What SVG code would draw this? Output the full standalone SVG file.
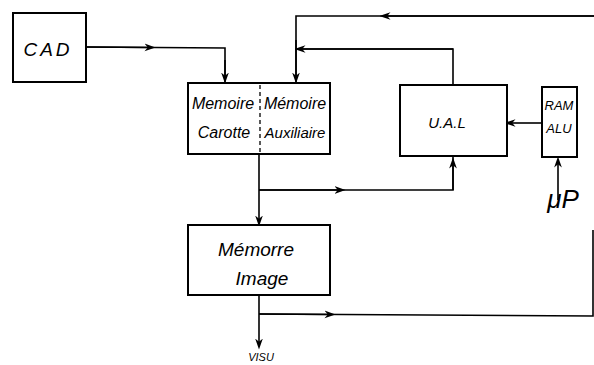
<svg xmlns="http://www.w3.org/2000/svg" width="594" height="365" viewBox="0 0 594 365">
<defs>
<marker id="ah" viewBox="0 0 10 10" refX="5" refY="5" markerWidth="11" markerHeight="11" markerUnits="userSpaceOnUse" orient="auto">
<path d="M0,1.5 L10,5 L0,8.5 L3,5 Z" fill="#000"/>
</marker>
<style>
.box{fill:#fff;stroke:#000;stroke-width:2}
.ln{fill:none;stroke:#000;stroke-width:1.6}
.t{font-family:"Liberation Sans",Arial,sans-serif;font-style:italic;fill:#000}
</style>
</defs>
<rect width="594" height="365" fill="#fff"/>
<g id="connectors">
<path class="ln" d="M86,47 L225,48 L225,82"/>
<path class="ln" d="M86,47 L150,47.5" marker-end="url(#ah)"/>
<path class="ln" d="M225,60 L225,78" marker-end="url(#ah)"/>
<path class="ln" d="M594,16 L296,16 L296,83"/>
<path class="ln" d="M594,16 L385,16" marker-end="url(#ah)"/>
<path class="ln" d="M296,40 L296,78" marker-end="url(#ah)"/>
<path class="ln" d="M453,85 L453,49 L296,49"/>
<path class="ln" d="M453,49 L300,49" marker-end="url(#ah)"/>
<path class="ln" d="M542,123 L510,123" marker-end="url(#ah)"/>
<path class="ln" d="M558,200 L558,162" marker-end="url(#ah)"/>
<path class="ln" d="M259,154 L259,221" marker-end="url(#ah)"/>
<path class="ln" d="M259,190 L453,190 L453,156"/>
<path class="ln" d="M259,190 L340,190" marker-end="url(#ah)"/>
<path class="ln" d="M453,190 L453,163" marker-end="url(#ah)"/>
<path class="ln" d="M259,295 L259,344" marker-end="url(#ah)"/>
<path class="ln" d="M259,314 L593,316 L593,230"/>
<path class="ln" d="M259,314 L330,314.5" marker-end="url(#ah)"/>
</g>
<g id="cad">
<rect class="box" x="13" y="13" width="73" height="69"/>
<text class="t" x="48" y="56" font-size="19" text-anchor="middle" letter-spacing="3">CAD</text>
</g>
<g id="memoire">
<rect class="box" x="188" y="83" width="142" height="71"/>
<line x1="260" y1="85" x2="260" y2="153" stroke="#000" stroke-width="1.3" stroke-dasharray="4,3"/>
<text class="t" x="223" y="109" font-size="16" text-anchor="middle">Memoire</text>
<text class="t" x="224" y="138" font-size="16" text-anchor="middle">Carotte</text>
<text class="t" x="295" y="109" font-size="16" text-anchor="middle">Mémoire</text>
<text class="t" x="295" y="138" font-size="15" text-anchor="middle">Auxiliaire</text>
</g>
<g id="ual">
<rect class="box" x="400" y="85" width="107" height="71"/>
<text class="t" x="447" y="128" font-size="15" text-anchor="middle">U.A.L</text>
</g>
<g id="ramalu">
<rect class="box" x="542" y="87" width="35" height="70"/>
<text class="t" x="559" y="110" font-size="13" text-anchor="middle">RAM</text>
<text class="t" x="559" y="133" font-size="13" text-anchor="middle">ALU</text>
</g>
<g id="mup">
<text class="t" x="563" y="208" font-size="26" text-anchor="middle">μP</text>
</g>
<g id="image">
<rect class="box" x="188" y="225" width="142" height="70"/>
<text class="t" x="256" y="256" font-size="19" text-anchor="middle">Mémorre</text>
<text class="t" x="262" y="285" font-size="19" text-anchor="middle">Image</text>
</g>
<g id="visu">
<text class="t" x="261" y="361" font-size="11" text-anchor="middle">VISU</text>
</g>
</svg>
